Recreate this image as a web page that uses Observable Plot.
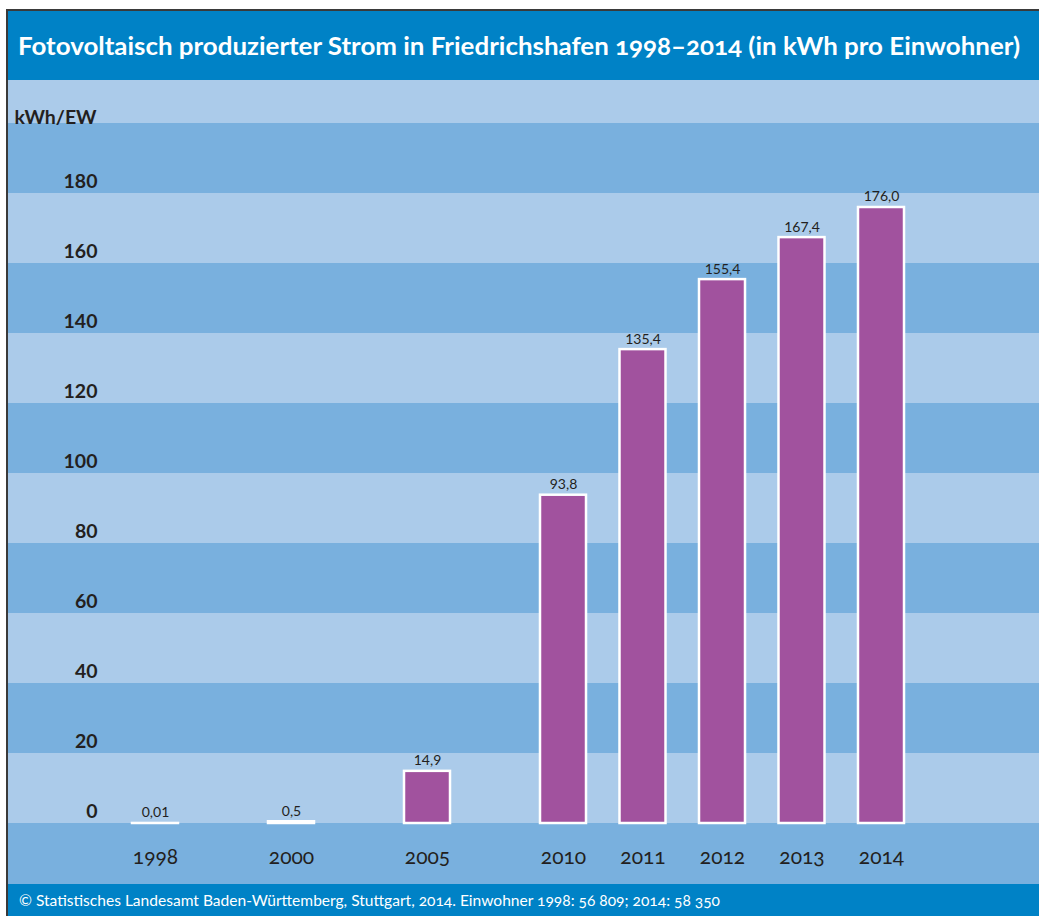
<!DOCTYPE html>
<html>
<head>
<meta charset="utf-8">
<script src="https://cdn.jsdelivr.net/npm/d3@7"></script>
<script src="https://cdn.jsdelivr.net/npm/@observablehq/plot@0.6"></script>
<style>
  html, body { margin: 0; padding: 0; background: #fff; overflow: hidden; }
  #frame {
    position: absolute; left: 6px; top: 9px; width: 1033px; height: 907px;
    box-sizing: border-box; border-left: 2px solid #3a3a3a; border-top: 2px solid #3a3a3a;
    background: #79b0de; overflow: hidden;
  }
  #frame svg { display: block; }
  .osf { font-variant-numeric: oldstyle-nums; }
</style>
</head>
<body>
<div id="frame"></div>
<script>
// ---- data ----
const titleText = "Fotovoltaisch produzierter Strom in Friedrichshafen 1998–2014 (in kWh pro Einwohner)";
const sourceText = "© Statistisches Landesamt Baden-Württemberg, Stuttgart, 2014. Einwohner 1998: 56 809; 2014: 58 350";
const unitLabel = "kWh/EW";
const years = [1998, 2000, 2005, 2010, 2011, 2012, 2013, 2014];
const values = [0.01, 0.5, 14.9, 93.8, 135.4, 155.4, 167.4, 176.0];
const valueLabels = ["0,01", "0,5", "14,9", "93,8", "135,4", "155,4", "167,4", "176,0"];
const yTicks = [0, 20, 40, 60, 80, 100, 120, 140, 160, 180];

// ---- styles ----
const blue = "#0082c6";
const lightBand = "#abcbea";
const purple = "#a1529e";
const ink = "#231f20";
const font = "Lato, 'Open Sans', sans-serif";

const data = years.map((year, i) => ({year, value: values[i], label: valueLabels[i]}));
const lightBands = d3.range(0, 220, 40); // bands [0,20], [40,60], ... drawn light

const frame = document.getElementById("frame");
const W = 1031;

// title bar
const title = d3.create("svg").attr("width", W).attr("height", 69);
title.append("rect").attr("width", W).attr("height", 69).attr("fill", blue);
title.append("text").attr("class", "osf")
  .attr("x", 10).attr("y", 44)
  .attr("fill", "white").attr("font-family", font).attr("font-weight", "bold").attr("font-size", 24)
  .attr("textLength", 1002).attr("lengthAdjust", "spacingAndGlyphs")
  .text(titleText);
frame.appendChild(title.node());

// chart
const chart = Plot.plot({
  width: W,
  height: 804,
  marginTop: 0, marginRight: 0, marginBottom: 0, marginLeft: 0,
  x: {type: "linear", domain: [1998, 2000, 2005, 2010, 2014], range: [147, 283, 419, 555, 873], axis: null},
  y: {domain: [-17.4286, 212.2857], axis: null},
  style: {background: "transparent", fontFamily: font, overflow: "hidden", color: ink},
  marks: [
    Plot.rect(lightBands, {y1: d => d, y2: d => d + 20, fill: lightBand}),
    Plot.rect(data, {x1: "year", x2: "year", y1: 0, y2: "value", insetLeft: -23, insetRight: -23,
      fill: purple, stroke: "white", strokeWidth: 2.5}),
    Plot.text(data, {x: "year", y: "value", text: "label", lineAnchor: "bottom", dy: -6,
      fontSize: 14, fill: ink}),
    Plot.text(data, {x: "year", y: 0, text: d => String(d.year), lineAnchor: "bottom", dy: 41,
      fontSize: 21, fill: ink, fontVariant: "oldstyle-nums"}),
    Plot.text(yTicks, {y: d => d, text: d => String(d), frameAnchor: "left", dx: 89, dy: -12,
      textAnchor: "end", fontSize: 19.5, fontWeight: "bold", fill: ink}),
    Plot.text([unitLabel], {text: d => d, frameAnchor: "top-left", dx: 6, dy: 43, lineAnchor: "bottom",
      textAnchor: "start", fontSize: 19.5, fontWeight: "bold", fill: ink})
  ]
});
frame.appendChild(chart);

// footer
const foot = d3.create("svg").attr("width", W).attr("height", 32);
foot.append("rect").attr("width", W).attr("height", 32).attr("fill", blue);
foot.append("text").attr("class", "osf")
  .attr("x", 11).attr("y", 22)
  .attr("fill", "white").attr("font-family", font).attr("font-size", 15)
  .attr("textLength", 701).attr("lengthAdjust", "spacingAndGlyphs")
  .text(sourceText);
frame.appendChild(foot.node());
</script>
</body>
</html>
